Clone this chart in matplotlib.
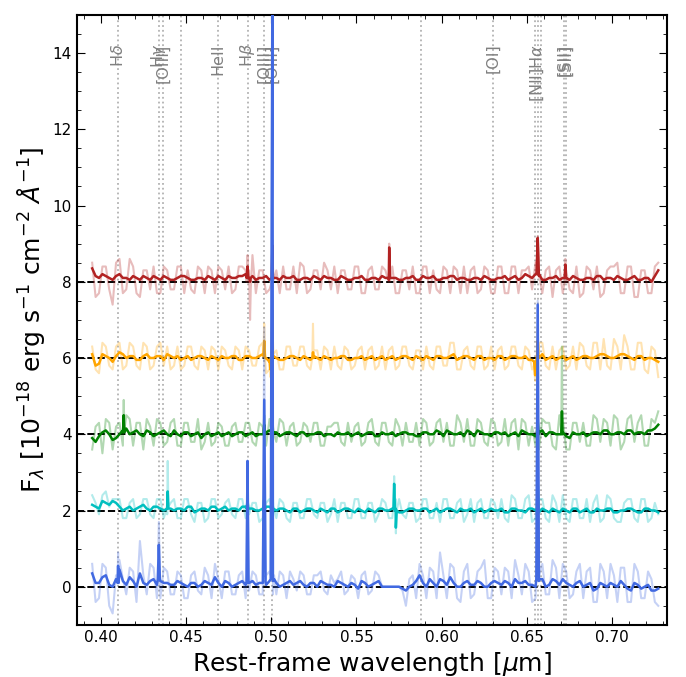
import numpy as np
import matplotlib.pyplot as plt
from matplotlib.ticker import MultipleLocator

# rest-frame wavelength grids [um]: main samples and the samples half-way between them
wave = np.round(np.arange(0.395, 0.7271, 0.004), 3)
wave_mid = np.round(np.arange(0.397, 0.7251, 0.004), 3)

# continuum fluxes (before vertical offset), smoothed and raw, on both grids
blue_smooth = [0.35, 0.1, 0.3, 0.0, 0.45, 0.05, 0.15, 0.35, 0.05, 0.2, 0.15, 0.1,
               0.05, 0.1, 0.0, 0.1, 0.05, 0.1, 0.25, 0.0, 0.1, 0.05, 0.15, 0.1,
               0.05, 0.1, 0.15, 0.1, 0.05, 0.15, 0.1, 0.05, 0.1, 0.0, 0.1, 0.05,
               0.15, 0.05, 0.1, -0.05, 0.1, 0.05, 0.15, 0.0, 0.0, 0.0, -0.1, 0.05,
               0.3, 0.0, 0.1, 0.2, 0.05, 0.1, 0.0, 0.15, 0.05, 0.1, 0.0, 0.15,
               0.05, 0.1, 0.2, 0.1, 0.05, 0.0, 0.2, 0.05, 0.15, 0.2, 0.05, 0.1,
               0.0, 0.1, -0.05, 0.05, 0.1, 0.0, 0.05, -0.1, 0.05, 0.0, -0.1, -0.05]
blue_smooth_mid = [0.1, 0.25, 0.05, 0.2, 0.15, 0.25, 0.0, 0.1, 0.15, 0.05, 0.1, 0.05,
                   0.15, 0.05, 0.1, 0.0, 0.15, 0.05, 0.1, 0.15, 0.0, 0.1, 0.05, 0.15,
                   0.1, 0.05, 0.15, 0.0, 0.1, 0.05, 0.15, 0.0, 0.1, 0.15, 0.05, 0.0,
                   0.1, 0.0, 0.05, 0.15, 0.0, 0.1, 0.0, 0.0, 0.0, -0.05, 0.0, 0.15,
                   0.1, 0.2, 0.0, 0.15, 0.25, 0.0, 0.1, 0.05, 0.15, 0.0, 0.1, 0.1,
                   0.15, 0.0, 0.1, 0.15, 0.05, 0.15, 0.0, 0.2, 0.05, 0.1, 0.0, 0.15,
                   0.05, -0.1, 0.1, 0.0, 0.05, 0.15, -0.05, 0.1, -0.05, 0.05, -0.1]
blue_raw = [0.6, -0.3, 0.5, -0.7, 0.7, -0.2, 0.4, 1.2, -0.2, 0.5, -0.3, 0.4,
            -0.2, 0.3, -0.3, 0.4, -0.2, 0.3, 0.6, -0.3, 0.4, -0.2, 0.4, -0.1,
            0.3, -0.2, 0.4, -0.2, 0.3, 0.4, -0.1, 0.3, -0.2, 0.3, -0.1, 0.3,
            0.2, -0.2, 0.3, -0.3, 0.4, -0.1, 0.3, 0.0, 0.0, 0.0, -0.5, 0.3,
            0.6, -0.3, 0.4, 0.9, -0.3, 0.5, -0.4, 0.6, -0.2, 0.5, -0.3, 0.5,
            -0.2, 0.4, 0.7, -0.2, 0.4, -0.3, 0.6, -0.2, 0.5, 0.6, -0.3, 0.4,
            -0.3, 0.5, -0.4, 0.4, 0.6, -0.4, 0.5, -0.4, 0.4, -0.3, 0.2, -0.5]
blue_raw_mid = [-0.4, 0.6, -0.5, 0.3, 0.2, 0.5, -0.4, 0.3, 0.6, -0.3, 0.5, -0.2,
                0.4, -0.3, 0.3, -0.1, 0.5, -0.3, 0.2, 0.4, -0.2, 0.3, -0.3, 0.4,
                -0.2, 0.3, -0.2, 0.4, -0.3, 0.2, 0.4, -0.2, 0.3, 0.4, -0.2, 0.1,
                0.4, -0.1, 0.2, 0.3, -0.2, 0.4, 0.0, 0.0, 0.0, -0.1, 0.2, -0.3,
                0.3, 0.5, -0.3, 0.3, 0.6, -0.3, 0.4, -0.3, 0.4, 0.7, -0.3, 0.4,
                0.5, -0.3, 0.3, 0.6, -0.4, 0.5, -0.2, 0.7, -0.3, 0.4, -0.2, 0.6,
                0.4, -0.4, 0.6, -0.3, 0.3, 0.5, -0.4, 0.6, -0.3, 0.4, -0.4]

cyan_smooth = [0.15, 0.05, 0.2, 0.25, 0.1, 0.05, 0.0, 0.1, 0.05, 0.1, 0.05, 0.1,
               0.0, 0.05, 0.1, -0.05, 0.05, 0.0, 0.1, 0.05, 0.0, 0.05, 0.1, 0.05,
               0.0, 0.05, 0.1, 0.0, 0.05, -0.05, 0.05, 0.0, 0.05, -0.05, 0.0, 0.05,
               -0.05, 0.05, 0.0, 0.05, -0.05, 0.0, 0.05, 0.0, 0.05, -0.05, 0.0, 0.05,
               0.0, 0.05, 0.0, -0.05, 0.05, 0.0, 0.05, 0.0, -0.05, 0.05, 0.0, 0.0,
               0.05, -0.05, 0.05, 0.0, 0.05, 0.0, 0.05, -0.05, 0.0, 0.05, -0.05, 0.05,
               0.0, -0.05, 0.05, 0.0, 0.05, -0.05, 0.0, 0.05, -0.05, 0.05, 0.0, -0.05]
cyan_smooth_mid = [0.1, 0.25, 0.15, 0.2, 0.0, 0.1, 0.05, 0.15, 0.0, 0.1, 0.0, 0.05,
                   0.05, 0.0, 0.1, 0.0, 0.05, 0.1, 0.0, 0.1, 0.05, 0.0, 0.1, 0.05,
                   0.0, 0.1, -0.05, 0.05, 0.0, 0.05, -0.05, 0.05, 0.0, 0.05, -0.05, 0.05,
                   0.0, 0.05, -0.05, 0.0, 0.05, -0.05, 0.05, 0.0, 0.05, -0.05, 0.05, 0.0,
                   0.05, -0.05, 0.05, 0.0, 0.05, -0.05, 0.0, 0.05, 0.0, -0.05, 0.05, 0.0,
                   -0.05, 0.05, 0.0, -0.05, 0.05, -0.05, 0.0, 0.05, -0.05, 0.0, 0.05, -0.05,
                   0.05, -0.05, 0.0, 0.05, -0.05, 0.0, 0.05, 0.0, -0.05, 0.05, 0.0]
cyan_raw = [0.4, -0.1, 0.5, 0.3, 0.3, -0.2, 0.3, -0.1, 0.3, -0.2, 0.3, -0.1,
            0.3, -0.2, 0.3, -0.3, 0.2, -0.2, 0.3, -0.1, 0.3, -0.2, 0.3, -0.1,
            0.2, -0.2, 0.3, -0.2, 0.2, -0.3, 0.2, -0.2, 0.3, -0.2, 0.2, -0.1,
            -0.3, 0.2, -0.2, 0.3, -0.2, 0.2, -0.1, 0.2, -0.2, 0.3, -0.2, 0.2,
            -0.2, 0.3, -0.2, -0.3, 0.3, -0.2, 0.3, -0.1, -0.3, 0.3, -0.2, 0.2,
            0.3, -0.3, 0.3, -0.2, 0.4, -0.2, 0.3, -0.3, 0.2, 0.4, -0.3, 0.3,
            -0.2, -0.3, 0.4, -0.2, 0.3, -0.3, 0.2, 0.3, -0.3, 0.3, -0.2, -0.1]
cyan_raw_mid = [0.2, 0.4, 0.1, 0.3, -0.2, 0.2, -0.2, 0.3, -0.1, 0.3, -0.2, 0.2,
                -0.2, 0.3, -0.1, 0.2, -0.3, 0.3, -0.2, 0.2, -0.1, 0.3, -0.2, 0.2,
                -0.3, 0.2, -0.1, 0.3, -0.2, 0.2, -0.2, 0.3, -0.1, 0.2, -0.3, 0.3,
                0.2, -0.2, 0.3, -0.2, 0.2, -0.3, 0.3, -0.2, 0.3, -0.1, 0.2, -0.3,
                0.3, -0.2, 0.2, 0.3, -0.2, 0.2, -0.3, 0.3, 0.2, -0.2, 0.3, -0.2,
                -0.2, 0.4, -0.2, 0.3, -0.3, 0.3, -0.2, 0.4, -0.3, -0.2, 0.3, -0.2,
                0.3, 0.2, -0.3, 0.4, -0.2, -0.3, 0.3, -0.2, 0.3, -0.3, 0.2]

green_smooth = [-0.1, -0.05, 0.1, -0.15, 0.0, 0.15, 0.05, 0.0, 0.1, -0.05, 0.05, 0.0,
                0.1, -0.05, 0.05, 0.0, -0.1, 0.05, 0.0, -0.05, 0.05, 0.0, 0.05, 0.0,
                -0.05, 0.0, 0.1, 0.05, 0.0, 0.05, -0.05, 0.05, 0.0, 0.05, -0.05, 0.0,
                0.05, 0.0, -0.05, 0.05, 0.0, 0.05, -0.05, 0.0, 0.05, 0.0, 0.05, 0.0,
                -0.05, 0.05, 0.0, 0.05, 0.1, 0.0, 0.05, 0.1, -0.05, 0.05, 0.0, 0.05,
                0.0, -0.05, 0.05, 0.1, 0.0, -0.05, 0.1, 0.05, 0.0, 0.05, -0.1, 0.0,
                0.05, 0.0, 0.05, 0.1, 0.0, 0.05, 0.0, 0.1, 0.05, 0.0, 0.1, 0.25]
green_smooth_mid = [-0.2, 0.05, 0.0, -0.1, 0.1, 0.0, 0.1, -0.05, 0.05, 0.0, 0.1, -0.05,
                    0.0, 0.05, -0.05, 0.05, 0.0, -0.05, 0.05, 0.0, -0.05, 0.05, -0.05, 0.05,
                    0.0, 0.05, 0.0, -0.05, 0.05, 0.0, 0.05, -0.05, 0.0, 0.05, 0.0, -0.05,
                    0.0, 0.05, 0.0, -0.05, 0.05, -0.05, 0.05, 0.0, -0.05, 0.05, 0.0, -0.05,
                    0.05, 0.0, 0.1, -0.05, 0.05, 0.0, -0.05, 0.05, 0.1, 0.0, -0.05, 0.05,
                    0.05, 0.0, -0.05, 0.05, 0.0, 0.05, -0.05, 0.05, 0.0, -0.05, 0.05, 0.0,
                    -0.05, 0.05, 0.0, 0.1, 0.0, 0.05, 0.1, 0.0, 0.05, 0.1, 0.15]
green_raw = [-0.4, 0.3, 0.4, -0.4, 0.3, 0.5, -0.3, 0.3, 0.4, -0.3, 0.3, -0.2,
             0.4, -0.3, 0.3, -0.2, -0.4, 0.3, -0.2, 0.2, -0.3, 0.3, -0.2, 0.3,
             -0.3, 0.2, 0.4, -0.2, 0.3, 0.2, -0.3, 0.3, -0.2, 0.3, -0.3, 0.2,
             0.3, -0.3, -0.2, 0.3, -0.2, 0.4, -0.3, 0.3, -0.3, 0.2, 0.3, -0.2,
             -0.3, 0.3, -0.2, 0.4, 0.3, -0.3, 0.3, 0.4, -0.3, 0.3, -0.3, 0.3,
             -0.2, -0.3, 0.4, 0.4, -0.3, -0.3, 0.4, 0.3, -0.4, 0.4, -0.4, 0.3,
             0.3, -0.3, 0.4, 0.4, -0.3, 0.4, -0.2, 0.5, 0.3, -0.3, 0.4, 0.6]
green_raw_mid = [0.2, -0.5, 0.3, 0.2, -0.3, 0.4, 0.3, -0.4, 0.2, 0.4, -0.3, 0.3,
                 -0.3, 0.3, -0.2, 0.4, -0.2, -0.3, 0.3, -0.3, 0.2, -0.2, 0.3, -0.2,
                 0.3, -0.3, 0.2, 0.4, -0.3, 0.3, -0.2, 0.2, 0.3, -0.3, 0.2, 0.3,
                 -0.2, 0.3, 0.2, -0.3, 0.3, -0.2, 0.3, -0.2, 0.4, -0.3, -0.2, 0.3,
                 0.4, -0.3, 0.3, -0.2, -0.3, 0.5, -0.2, -0.3, 0.4, -0.2, 0.4, -0.3,
                 0.4, 0.3, -0.4, 0.3, 0.2, -0.4, 0.3, -0.3, 0.5, -0.4, 0.3, -0.2,
                 -0.3, 0.5, -0.2, 0.3, 0.5, -0.4, 0.4, -0.2, 0.5, -0.3, 0.3]

orange_smooth = [0.1, -0.15, 0.05, -0.1, 0.15, 0.0, 0.05, -0.05, 0.1, 0.0, 0.05, 0.1,
                 0.0, -0.05, 0.05, 0.0, 0.05, -0.05, 0.0, 0.05, 0.0, 0.05, -0.05, 0.05,
                 0.0, 0.1, -0.1, 0.0, -0.05, 0.05, 0.0, 0.05, -0.05, 0.0, 0.05, -0.05,
                 0.0, 0.05, -0.05, 0.0, -0.05, 0.05, 0.0, -0.05, 0.05, 0.0, 0.05, -0.05,
                 0.0, 0.05, -0.05, 0.05, 0.0, 0.1, 0.0, 0.05, -0.05, 0.05, 0.0, -0.05,
                 0.05, 0.0, 0.05, 0.0, -0.05, -0.2, 0.1, 0.0, -0.05, 0.05, 0.0, -0.05,
                 0.05, 0.0, 0.05, 0.1, 0.0, 0.05, 0.1, 0.0, 0.05, -0.05, 0.0, -0.1]
orange_smooth_mid = [-0.2, 0.1, 0.0, 0.05, 0.1, 0.05, -0.05, 0.05, 0.0, 0.05, -0.05, 0.05,
                     0.05, 0.0, -0.05, 0.05, 0.0, 0.05, -0.05, 0.0, 0.05, -0.05, 0.05, 0.0,
                     0.05, 0.0, 0.05, -0.05, 0.0, 0.05, -0.05, 0.0, 0.05, -0.05, 0.0, 0.0,
                     0.05, -0.05, 0.0, 0.05, 0.0, -0.05, 0.05, 0.0, -0.05, 0.05, 0.0, 0.05,
                     -0.05, 0.0, 0.05, 0.0, 0.05, -0.05, 0.05, 0.0, 0.05, -0.05, 0.0, 0.05,
                     -0.05, 0.05, 0.0, 0.05, -0.05, 0.0, -0.05, 0.05, 0.0, -0.05, 0.05, 0.0,
                     0.05, 0.0, 0.1, 0.05, 0.0, 0.1, 0.05, -0.05, 0.05, 0.0, -0.05]
orange_raw = [0.3, -0.4, 0.3, -0.3, 0.4, -0.2, 0.3, -0.3, 0.3, -0.2, 0.4, 0.3,
              -0.2, -0.3, 0.3, -0.2, 0.3, -0.3, 0.2, 0.3, -0.2, 0.3, -0.3, 0.2,
              -0.2, 0.4, -0.3, 0.2, -0.3, 0.3, -0.2, 0.3, -0.3, 0.2, 0.3, -0.3,
              -0.2, 0.3, -0.3, 0.2, -0.3, 0.3, -0.2, -0.3, 0.3, -0.2, 0.3, -0.3,
              0.2, 0.3, -0.3, 0.3, -0.2, 0.4, -0.3, 0.3, -0.3, 0.3, -0.2, -0.3,
              0.3, -0.2, 0.3, -0.3, 0.2, -0.5, 0.4, -0.3, -0.3, 0.3, -0.2, -0.3,
              0.3, -0.3, 0.4, 0.5, -0.3, 0.3, 0.6, -0.3, 0.4, -0.3, 0.3, -0.5]
orange_raw_mid = [-0.3, 0.4, -0.2, 0.3, -0.3, 0.4, -0.2, 0.4, -0.3, 0.3, -0.2, -0.3,
                  0.3, -0.2, 0.3, -0.3, 0.2, 0.3, -0.3, 0.2, -0.3, 0.2, 0.3, -0.2,
                  0.3, -0.4, 0.2, -0.3, 0.3, -0.2, 0.3, -0.2, 0.2, -0.3, 0.2, 0.3,
                  -0.3, 0.2, -0.2, 0.3, 0.2, -0.3, 0.3, 0.2, -0.3, 0.3, -0.2, 0.2,
                  -0.3, -0.2, 0.3, -0.2, 0.4, -0.3, 0.2, -0.2, 0.3, -0.3, 0.3, 0.2,
                  -0.3, 0.3, -0.2, 0.3, -0.3, 0.4, -0.2, 0.3, 0.2, -0.3, 0.3, 0.4,
                  -0.2, 0.4, -0.3, -0.2, 0.5, -0.3, 0.3, -0.3, 0.4, -0.4, 0.2]

red_smooth = [0.35, 0.1, 0.15, 0.05, 0.2, 0.1, 0.15, 0.05, 0.1, 0.15, 0.05, 0.1,
              0.05, 0.15, 0.1, 0.05, 0.1, 0.15, 0.05, 0.1, 0.15, 0.1, 0.15, 0.1,
              0.05, 0.1, 0.05, 0.1, 0.15, 0.1, 0.05, 0.1, 0.05, 0.1, 0.15, 0.1,
              0.05, 0.1, 0.05, 0.1, 0.05, 0.1, 0.05, 0.1, 0.1, 0.05, 0.1, 0.15,
              0.05, 0.1, 0.15, 0.05, 0.1, 0.15, 0.1, 0.05, 0.1, 0.05, 0.1, 0.05,
              0.1, 0.05, 0.15, 0.1, 0.15, 0.2, 0.05, 0.1, 0.15, 0.1, 0.05, 0.1,
              0.05, 0.1, 0.15, 0.05, 0.1, 0.15, 0.05, 0.1, 0.05, 0.1, 0.0, 0.3]
red_smooth_mid = [0.15, 0.2, 0.1, 0.15, 0.1, 0.05, 0.1, 0.15, 0.05, 0.1, 0.15, 0.05,
                  0.1, 0.15, 0.05, 0.1, 0.05, 0.1, 0.15, 0.05, 0.1, 0.15, 0.2, 0.15,
                  0.1, 0.15, 0.1, 0.05, 0.1, 0.15, 0.05, 0.1, 0.15, 0.05, 0.1, 0.05,
                  0.15, 0.05, 0.1, 0.15, 0.05, 0.1, 0.15, 0.05, 0.1, 0.05, 0.1, 0.05,
                  0.15, 0.1, 0.05, 0.1, 0.15, 0.05, 0.1, 0.05, 0.1, 0.15, 0.05, 0.1,
                  0.15, 0.1, 0.05, 0.2, 0.1, 0.15, 0.05, 0.1, 0.05, 0.1, 0.15, 0.05,
                  0.1, 0.05, 0.15, 0.1, 0.05, 0.1, 0.05, 0.15, 0.05, 0.1, 0.15]
red_raw = [0.5, -0.3, 0.4, -0.6, 0.6, -0.2, 0.4, -0.4, 0.3, 0.4, -0.3, 0.3,
           -0.2, 0.4, 0.3, -0.3, 0.3, 0.4, -0.3, 0.3, 0.4, -0.2, 0.4, 0.3,
           -0.3, 0.3, -0.2, 0.3, 0.4, -0.2, -0.3, 0.4, -0.2, 0.3, 0.5, -0.2,
           -0.3, 0.3, -0.2, 0.4, -0.3, 0.4, -0.2, 0.3, 0.4, -0.3, 0.3, 0.4,
           -0.3, 0.4, 0.3, -0.3, 0.3, 0.4, -0.3, -0.3, 0.4, -0.2, 0.3, -0.3,
           0.4, -0.3, 0.4, 0.3, 0.4, 0.5, -0.3, 0.4, 0.3, -0.3, -0.2, 0.4,
           -0.3, 0.3, 0.4, -0.3, 0.4, 0.5, -0.3, 0.4, -0.4, 0.3, -0.3, 0.5]
red_raw_mid = [-0.4, 0.4, -0.2, 0.5, -0.3, 0.6, -0.3, 0.3, -0.2, -0.3, 0.4, -0.2,
               0.4, -0.3, -0.2, 0.4, -0.3, 0.3, 0.4, -0.2, -0.3, 0.4, 0.3, 0.7,
               0.3, -0.3, 0.4, -0.3, -0.2, 0.4, 0.5, -0.3, 0.3, -0.2, 0.3, 0.4,
               0.3, -0.2, 0.4, -0.3, 0.3, -0.2, 0.4, 0.5, -0.3, 0.3, -0.2, -0.3,
               0.4, -0.3, -0.2, 0.4, -0.3, 0.3, 0.4, 0.3, -0.3, 0.4, -0.3, 0.4,
               -0.3, 0.4, -0.3, 0.3, -0.2, 0.4, 0.3, -0.4, 0.4, 0.3, -0.3, -0.4,
               0.4, -0.2, -0.4, 0.3, 0.4, -0.3, 0.4, -0.4, 0.3, -0.3, 0.4]

# emission / absorption features sampled at their own wavelengths
blue_feat_wave = [0.4099, 0.4102, 0.4105, 0.4335, 0.4341, 0.4347, 0.4855, 0.4861, 0.4867,
                  0.4951, 0.4959, 0.4967, 0.4997, 0.5007, 0.5017, 0.6555, 0.6563, 0.6571]
blue_feat_smooth = [0.1, 0.55, 0.1, 0.2, 1.1, 0.2, 0.1, 3.3, 0.1,
                    0.1, 4.9, 0.1, 0.2, 16.0, 0.2, 0.2, 7.4, 0.2]
blue_feat_raw = [0.1, 0.9, 0.1, 0.3, 1.7, 0.3, 0.1, 3.3, 0.1,
                 0.2, 6.8, 0.2, 0.3, 16.0, 0.3, 0.3, 7.5, 0.3]

cyan_feat_wave = [0.4389, 0.4393, 0.4397, 0.4856, 0.4861, 0.4866, 0.4954, 0.4959, 0.4964,
                  0.5002, 0.5007, 0.5012, 0.5717, 0.5721, 0.5726, 0.5731, 0.5736,
                  0.6558, 0.6563, 0.6568]
cyan_feat_smooth = [0.05, 0.5, 0.05, 0.05, 0.25, 0.05, 0.05, 0.3, 0.05,
                    0.05, 1.0, 0.05, 0.05, 0.7, 0.0, -0.45, 0.0, 0.05, 0.7, 0.05]
cyan_feat_raw = [0.1, 1.3, 0.1, 0.1, 0.4, 0.1, 0.1, 0.6, 0.1,
                 0.1, 1.3, 0.1, 0.1, 0.9, 0.0, -0.6, 0.0, 0.1, 1.0, 0.1]

green_feat_wave = [0.4131, 0.4135, 0.4139, 0.4954, 0.4959, 0.4964, 0.5002, 0.5007, 0.5012,
                   0.6558, 0.6563, 0.6568, 0.6701, 0.6705, 0.6709]
green_feat_smooth = [0.05, 0.5, 0.05, 0.0, 0.25, 0.0, 0.05, 0.75, 0.05,
                     0.0, 0.35, 0.0, 0.0, 0.6, 0.0]
green_feat_raw = [0.1, 0.9, 0.1, 0.1, 0.5, 0.1, 0.1, 1.2, 0.1,
                  0.1, 0.6, 0.1, 0.1, 2.3, 0.1]

orange_feat_wave = [0.4954, 0.4959, 0.4964, 0.4991, 0.4995, 0.4999, 0.5003, 0.5007, 0.5012,
                    0.5241, 0.5245, 0.5249, 0.6542, 0.6548, 0.6554, 0.6559, 0.6563, 0.6567]
orange_feat_smooth = [0.05, 0.45, 0.0, -0.05, -0.3, -0.05, 0.1, 1.25, 0.05,
                      0.0, 0.15, 0.0, -0.1, -0.45, -0.1, 0.05, 0.45, 0.05]
orange_feat_raw = [0.1, 0.9, 0.0, -0.1, -0.5, -0.1, 0.2, 1.6, 0.1,
                   0.0, 0.9, 0.0, -0.2, -0.6, -0.2, 0.1, 0.8, 0.1]

red_feat_wave = [0.4856, 0.4861, 0.4866, 0.4872, 0.4876, 0.4880, 0.5003, 0.5007, 0.5011,
                 0.5688, 0.5692, 0.5696, 0.6556, 0.6563, 0.6570, 0.6721, 0.6725, 0.6729]
red_feat_smooth = [0.1, 0.4, 0.1, 0.1, 0.0, 0.1, 0.1, 0.95, 0.1,
                   0.1, 0.9, 0.1, 0.2, 1.15, 0.2, 0.1, 0.45, 0.1]
red_feat_raw = [0.0, 0.7, 0.0, -0.2, -1.0, -0.2, 0.0, 1.1, 0.0,
                0.0, 1.0, 0.0, 0.2, 1.2, 0.2, 0.0, 0.6, 0.0]

offsets = [0, 2, 4, 6, 8]
colors = ['royalblue', 'c', 'green', 'orange', 'firebrick']

# line markers
line_wave = [0.4102, 0.4341, 0.4363, 0.4471, 0.4686, 0.4861, 0.4959, 0.5007,
             0.5876, 0.6300, 0.6548, 0.6563, 0.6584, 0.6717, 0.6731]
line_names = [r'H$\delta$', r'H$\gamma$', '[OIII]', '', 'HeII', r'H$\beta$', '[OIII]', '[OIII]',
              '', '[OI]', '', r'[NII]H$\alpha$', '', '[SII]', '[SII]']


def build(main, mid, fwl, fflux):
    x = np.concatenate([wave, wave_mid, fwl])
    y = np.concatenate([main, mid, fflux])
    o = np.argsort(x, kind='stable')
    return x[o], y[o]


spectra = [
    (blue_smooth, blue_smooth_mid, blue_raw, blue_raw_mid, blue_feat_wave, blue_feat_smooth, blue_feat_raw),
    (cyan_smooth, cyan_smooth_mid, cyan_raw, cyan_raw_mid, cyan_feat_wave, cyan_feat_smooth, cyan_feat_raw),
    (green_smooth, green_smooth_mid, green_raw, green_raw_mid, green_feat_wave, green_feat_smooth, green_feat_raw),
    (orange_smooth, orange_smooth_mid, orange_raw, orange_raw_mid, orange_feat_wave, orange_feat_smooth, orange_feat_raw),
    (red_smooth, red_smooth_mid, red_raw, red_raw_mid, red_feat_wave, red_feat_smooth, red_feat_raw),
]

fig = plt.figure(figsize=(6.86, 6.77), dpi=100)
ax = fig.add_axes([0.112, 0.077, 0.860, 0.901])

for i, (sm, sm_mid, raw, raw_mid, fw, fs, fr) in enumerate(spectra):
    z = 10 - i
    xr, yr = build(raw, raw_mid, fw, fr)
    xs, ys = build(sm, sm_mid, fw, fs)
    ax.plot(xr, yr + offsets[i], color=colors[i], lw=1.5, alpha=0.3, zorder=z)
    ax.plot(xs, ys + offsets[i], color=colors[i], lw=1.8, zorder=z + 0.5)

for off in offsets:
    ax.axhline(off, color='k', ls='--', lw=1.4, zorder=5)

for wl, name in zip(line_wave, line_names):
    ax.axvline(wl, color='grey', ls=':', lw=1.3, alpha=0.6, zorder=1)
    if name:
        ax.text(wl, 14.25, name, rotation=90, ha='center', va='top',
                color='grey', fontsize=11.5)

ax.set_xlim(0.386, 0.732)
ax.set_ylim(-1, 15)
ax.xaxis.set_major_locator(MultipleLocator(0.05))
ax.xaxis.set_minor_locator(MultipleLocator(0.01))
ax.yaxis.set_major_locator(MultipleLocator(2))
ax.yaxis.set_minor_locator(MultipleLocator(0.5))
ax.tick_params(which='both', direction='in', top=True, right=True, labelsize=11)
ax.tick_params(which='major', length=6)
ax.tick_params(which='minor', length=3)
for s in ax.spines.values():
    s.set_linewidth(1.5)

ax.set_xlabel(r'Rest-frame wavelength [$\mu$m]', fontsize=18)
ax.set_ylabel(r'F$_\lambda$ [10$^{-18}$ erg s$^{-1}$ cm$^{-2}$ $\AA^{-1}$]', fontsize=18)

fig.savefig('out.png', dpi=100)
